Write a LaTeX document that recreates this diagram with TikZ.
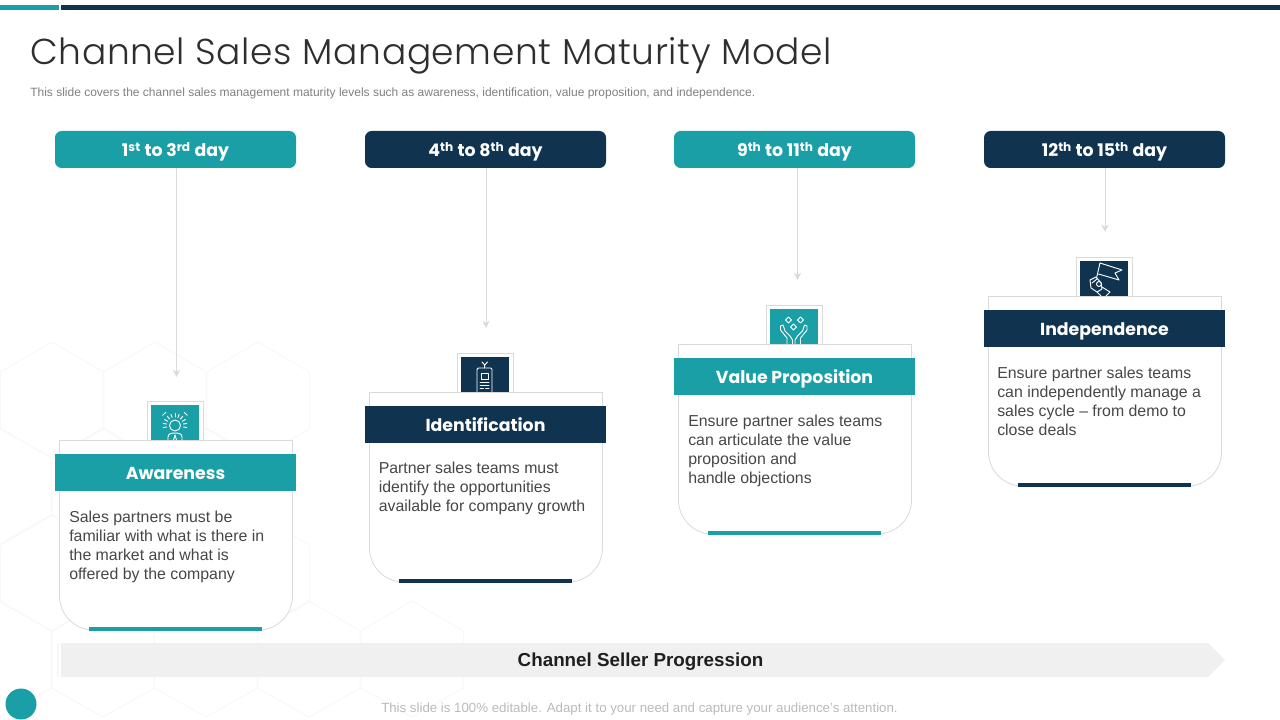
\documentclass[tikz,border=0pt]{standalone}
\usepackage{fontspec}
\usetikzlibrary{arrows.meta}
\setmainfont{Liberation Sans}
\newfontfamily\gothic{Poppins}
\newfontfamily\gothiclight[LetterSpace=1.8]{Poppins Light}
\definecolor{tealc}{HTML}{1A9FA6}
\definecolor{navyc}{HTML}{10344F}
\definecolor{hexc}{HTML}{F8F8F8}
\definecolor{edgec}{HTML}{DADADA}
\tikzset{
pill/.style={rounded corners=5pt,text=white,font=\gothic\bfseries\fontsize{13}{16}\selectfont,text height=11pt,text depth=0pt,minimum width=180.75pt,minimum height=27.75pt,inner sep=0pt},
banner/.style={text=white,font=\gothic\bfseries\fontsize{13}{16}\selectfont,text height=11pt,text depth=0pt,minimum width=180.75pt,minimum height=27.75pt,inner sep=0pt},
bodytext/.style={anchor=north west,align=left,inner sep=0pt,text=black!72,font=\fontsize{11.9}{14.25}\selectfont},
icon/.style={draw=white,line width=0.7pt,line join=round,line cap=round},
hex/.style={draw=hexc,line width=0.9pt}
}
\newcommand{\hexagon}[2]{\draw[hex] (#1,#2)--(#1+51.5,#2+30)--(#1+51.5,#2+87)--(#1,#2+116)--(#1-51.5,#2+87)--(#1-51.5,#2+30)--cycle;}
\begin{document}
\begin{tikzpicture}[x=0.75pt,y=-0.75pt]
\useasboundingbox (0,0) rectangle (1280,720);

% background hexagons
\foreach \x in {52,155,258} {\hexagon{\x}{342}}
\foreach \x in {0,103,206} {\hexagon{\x}{428}}
\foreach \x in {52,155,258} {\hexagon{\x}{515}}
\foreach \x in {0,103,206,309,412} {\hexagon{\x}{601}}

% top rule
\fill[tealc] (0,5) rectangle (59,10);
\fill[navyc] (61,5) rectangle (1280,10);

\node[anchor=base west,inner sep=0pt,text=black!82,font=\gothiclight\fontsize{27}{32}\selectfont] (title) at (30,65) {Channel Sales Management Maturity Model};
\node[anchor=base west,inner sep=0pt,text=black!50,font=\fontsize{9}{11}\selectfont] (subtitle) at (30,97) {This slide covers the channel sales management maturity levels such as awareness, identification, value proposition, and independence.};

% day labels
\node[pill,fill=tealc] (day1) at (175.5,149.5) {1\textsuperscript{st} to 3\textsuperscript{rd} day};
\node[pill,fill=navyc] (day2) at (485.5,149.5) {4\textsuperscript{th} to 8\textsuperscript{th} day};
\node[pill,fill=tealc] (day3) at (794.5,149.5) {9\textsuperscript{th} to 11\textsuperscript{th} day};
\node[pill,fill=navyc] (day4) at (1104.5,149.5) {12\textsuperscript{th} to 15\textsuperscript{th} day};

\coordinate (end1) at (176.5,377);
\coordinate (end2) at (486,328);
\coordinate (end3) at (797.5,280);
\coordinate (end4) at (1105,232);
\foreach \i in {1,2,3,4} {\draw[edgec,line width=0.75pt,-{Stealth[length=5.5pt,width=5.5pt]}] (day\i.south -| end\i) -- (end\i);}

% icon frames and cards
\foreach \i/\dx/\dy/\col in {1/0/0/tealc,2/310/-48/navyc,3/619/-96/tealc,4/929/-144/navyc} {
\begin{scope}[shift={(\dx,\dy)}]
\draw[edgec,fill=white,line width=0.6pt] (147.5,401.5) rectangle (203.5,440);
\fill[\col] (151,405) rectangle (199,440);
\end{scope}
}

% awareness icon
\draw[icon] (175,425.5) circle [radius=5.5];
\draw[icon] (168,440)--(168,437)..controls (168,434) and (171,433) .. (175,433)..controls (179,433) and (182,434) .. (182,437)--(182,440);
\draw[icon] (175,435)--(173.5,440);
\draw[icon] (175,435)--(176.5,440);
\foreach \a in {-10,10,30,50,70,90,110,130,150,170,190} {\draw[icon] (175,425.5)+({-\a}:8.5) -- +({-\a}:12);}
\draw[icon] (175,425.5)+(-40:16) arc (-40:-55:16);
\draw[icon] (175,425.5)+(-125:16) arc (-125:-140:16);

% identification icon
\draw[icon,rounded corners=1pt] (477,392)--(477,368)--(492,368)--(492,392);
\draw[icon] (481,373) rectangle (488.5,379);
\draw[icon] (484.7,368)--(484.7,365)--(482,362);
\draw[icon] (484.7,365)--(487.5,362);
\draw[icon] (480,382)--(489,382);
\draw[icon] (480,385)--(489,385);
\draw[icon] (480,388)--(483.5,388);
\draw[icon] (485.5,388)--(489,388);

% value proposition icon
\foreach \cx/\cy in {788.5/320,800.5/320,793.5/327} {\draw[icon] (\cx,\cy-3)--(\cx+3,\cy)--(\cx,\cy+3)--(\cx-3,\cy)--cycle;}
\draw[icon] (787,344)--(787,338)--(780.5,330)--(780.5,326)--(783,325)--(785,331)--(790,336)--(792.5,340)--(792.5,344);
\draw[icon] (800.5,344)--(800.5,338)--(807,330)--(807,326)--(804.5,325)--(802.5,331)--(797.5,336)--(795,340)--(795,344);

% independence icon
\draw[icon] (1100,263)--(1122,270)--(1115,273)--(1119,280)--(1098.5,274);
\draw[icon] (1100,263)--(1096.5,278);
\draw[icon] (1090,280)--(1096,277)--(1101,283)--(1102,289)--(1097,292)--(1091,288)--cycle;
\draw[icon] (1092,283)--(1097,279);
\draw[icon] (1099,284) circle [radius=2.5];
\draw[icon] (1102,287)--(1110,292)--(1106,296);
\draw[icon] (1097,292)--(1101,296);

\foreach \i/\dx/\dy/\col in {1/0/0/tealc,2/310/-48/navyc,3/619/-96/tealc,4/929/-144/navyc} {
\begin{scope}[shift={(\dx,\dy)}]
\draw[edgec,fill=white,line width=0.6pt] (59.5,440.5) -- (292.5,440.5) -- (292.5,596) arc (0:90:34) -- (93.5,630) arc (90:180:34) -- cycle;
\fill[\col] (89,627) rectangle (262,631);
\end{scope}
}

% card titles
\node[banner,fill=tealc] (card1) at (175.5,472.5) {Awareness};
\node[banner,fill=navyc] (card2) at (485.5,424.5) {Identification};
\node[banner,fill=tealc] (card3) at (794.5,376.5) {Value Proposition};
\node[banner,fill=navyc] (card4) at (1104.5,328.5) {Independence};

\node[bodytext] (text1) at (69,511) {Sales partners must be\\familiar with what is there in\\the market and what is\\offered by the company};
\node[bodytext] (text2) at (378.5,462) {Partner sales teams must\\identify the opportunities\\available for company growth};
\node[bodytext] (text3) at (688,415) {Ensure partner sales teams\\can articulate the value\\proposition and\\handle objections};
\node[bodytext] (text4) at (997,367) {Ensure partner sales teams\\can independently manage a\\sales cycle -- from demo to\\close deals};

% progression arrow
\fill[black!3] (57,643) rectangle (59,677);
\fill[black!6] (61,643)--(1208,643)--(1225,660)--(1208,677)--(61,677)--cycle;
\node[inner sep=0pt,text=black!88,font=\bfseries\fontsize{14.1}{18}\selectfont] (progress) at (640.5,661.5) {Channel Seller Progression};

\fill[tealc] (21,704) circle [radius=15.5];
\node[anchor=base,inner sep=0pt,text=black!27,font=\fontsize{9.95}{11}\selectfont] (footer) at (639.5,712) {This slide is 100\% editable. Adapt it to your need and capture your audience's attention.};
\end{tikzpicture}
\end{document}
